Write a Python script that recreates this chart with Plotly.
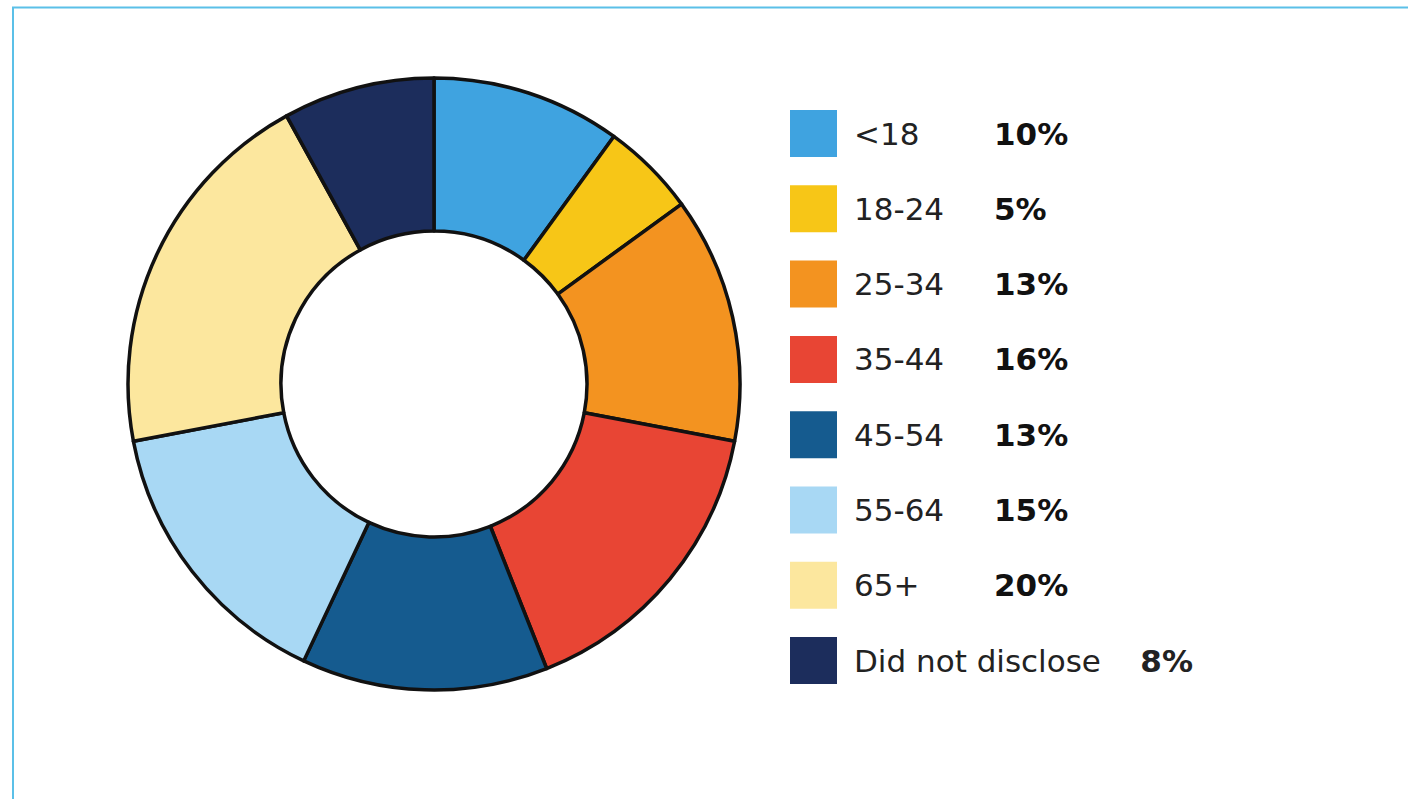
import plotly.graph_objects as go

# Age distribution of respondents
age_groups = ["<18", "18-24", "25-34", "35-44", "45-54", "55-64", "65+", "Did not disclose"]
shares = [10, 5, 13, 16, 13, 15, 20, 8]
colors = ["#3fa3e0", "#f7c617", "#f39320", "#e84534", "#155b8f", "#a8d8f4", "#fce79e", "#1c2d5c"]

W, H = 1408, 799


def px_x(x):
    return x / W


def px_y(y):
    return 1 - y / H


# donut geometry (pixels)
cx, cy, r = 434, 384, 306

fig = go.Figure(
    go.Pie(
        labels=age_groups,
        values=shares,
        marker=dict(colors=colors, line=dict(color="#111111", width=3.5)),
        hole=0.5,
        sort=False,
        direction="clockwise",
        rotation=0,
        textinfo="none",
        hoverinfo="label+percent",
        showlegend=False,
        domain=dict(x=[px_x(cx - r), px_x(cx + r)], y=[px_y(cy + r), px_y(cy - r)]),
    )
)

shapes = [
    # outer frame
    dict(type="rect", xref="paper", yref="paper",
         x0=px_x(13), x1=1.05, y0=-0.05, y1=px_y(7.5),
         line=dict(color="#5bc0e8", width=2), fillcolor="rgba(0,0,0,0)"),
]
annotations = []

row0, row_step, sq = 133.5, 75.3, 47
font_family = "DejaVu Sans"
fsize = 31
for i, (lab, val, col) in enumerate(zip(age_groups, shares, colors)):
    yc = row0 + row_step * i
    shapes.append(dict(type="rect", xref="paper", yref="paper",
                       x0=px_x(790), x1=px_x(790 + sq),
                       y0=px_y(yc + sq / 2), y1=px_y(yc - sq / 2),
                       line=dict(width=0), fillcolor=col))
    if len(lab) > 8:
        annotations.append(dict(xref="paper", yref="paper", x=px_x(852), y=px_y(yc),
                                xanchor="left", yanchor="middle", showarrow=False,
                                text=f"{lab}&nbsp;&nbsp;&nbsp;&nbsp;<b>{val}%</b>",
                                font=dict(family=font_family, size=fsize, color="#222222")))
    else:
        annotations.append(dict(xref="paper", yref="paper", x=px_x(852), y=px_y(yc),
                                xanchor="left", yanchor="middle", showarrow=False,
                                text=lab,
                                font=dict(family=font_family, size=fsize, color="#222222")))
        annotations.append(dict(xref="paper", yref="paper", x=px_x(992), y=px_y(yc),
                                xanchor="left", yanchor="middle", showarrow=False,
                                text=f"<b>{val}%</b>",
                                font=dict(family=font_family, size=fsize, color="#111111")))

fig.update_layout(
    width=W, height=H, autosize=False,
    margin=dict(l=0, r=0, t=0, b=0),
    paper_bgcolor="white", plot_bgcolor="white",
    shapes=shapes, annotations=annotations,
)

fig.write_html("out.html")
